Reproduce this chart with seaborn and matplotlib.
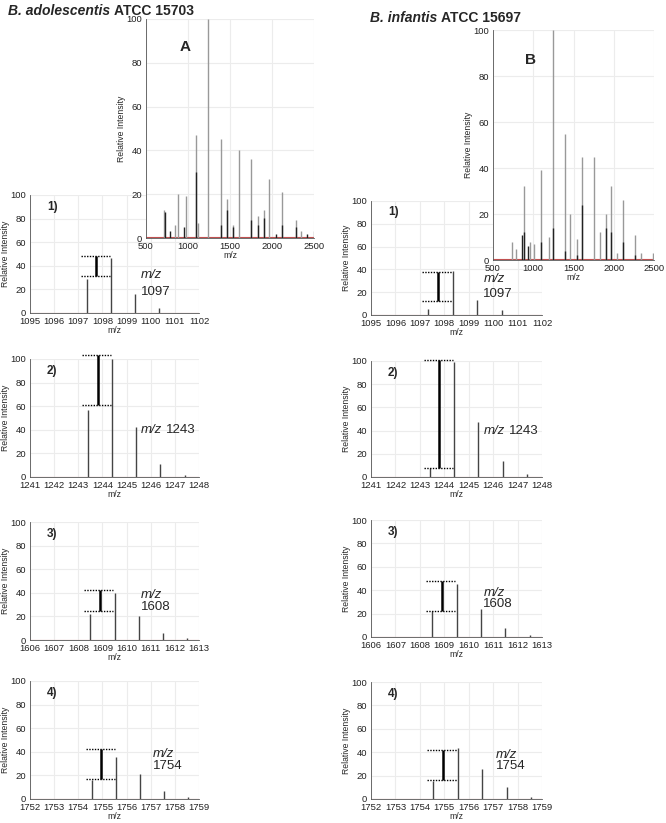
import numpy as np
import matplotlib
matplotlib.use("Agg")
import matplotlib.pyplot as plt
import seaborn as sns

sns.set_style("whitegrid", {"grid.color": "#ececec", "axes.edgecolor": "#555555"})
plt.rcParams["font.family"] = "Liberation Sans"

W, H = 666, 823

# ---- overview spectra (m/z, intensity) ----
a_gray_mz = [720, 880, 980, 1100, 1243, 1390, 1460, 1540, 1608, 1754, 1830, 1900, 1970, 2120, 2280, 2350, 2500, 1120, 850]
a_gray_int = [13, 20, 19, 47, 100, 45, 18, 6, 40, 36, 10, 13, 27, 21, 8, 3, 3, 7, 6]
a_dark_mz = [730, 780, 950, 1097, 1390, 1460, 1540, 1754, 1830, 1900, 2050, 2120, 2280, 2420]
a_dark_int = [12, 3, 5, 30, 6, 13, 5, 8, 6, 9, 2, 6, 5, 2]

b_gray_mz = [730, 790, 880, 960, 1010, 1097, 1200, 1243, 1390, 1460, 1540, 1608, 1754, 1830, 1900, 1970, 2040, 2120, 2270, 2340, 2490]
b_gray_int = [8, 5, 32, 8, 7, 39, 10, 100, 55, 20, 9, 45, 45, 12, 20, 32, 3, 26, 11, 3, 3]
b_dark_mz = [860, 890, 930, 1100, 1250, 1400, 1545, 1608, 1900, 1970, 2120, 2270]
b_dark_int = [11, 12, 6, 8, 14, 4, 2, 24, 14, 12, 8, 2]

# ---- zoomed isotope clusters ----
zoom_start = [1095, 1241, 1606, 1752]
zoom_labels = ["1097", "1243", "1608", "1754"]
left_peaks = [[1097.35, 1098.35, 1099.35, 1100.35],
              [1243.4, 1244.4, 1245.4, 1246.4, 1247.4],
              [1608.5, 1609.5, 1610.5, 1611.5, 1612.5],
              [1754.55, 1755.55, 1756.55, 1757.55, 1758.55]]
left_int = [[29, 47, 16, 4], [57, 100, 42, 11, 2], [22, 40, 20, 6, 2], [16, 36, 21, 7, 2]]
left_bracket = [(48, 31), (103, 61), (42, 25), (42, 17)]
right_peaks = left_peaks
right_int = [[5, 39, 13, 4], [8, 99, 47, 14, 3], [22, 45, 24, 8, 2], [15, 44, 26, 10, 2]]
right_bracket = [(38, 12), (101, 8), (48, 22), (42, 16)]


def px_axes(fig, x0, x1, ytop, ybot):
    return fig.add_axes([x0 / W, 1 - ybot / H, (x1 - x0) / W, (ybot - ytop) / H])


def style(ax, xlim, xticks, ylim=(0, 100)):
    ax.set_xlim(*xlim)
    ax.set_ylim(*ylim)
    ax.set_xticks(xticks)
    ax.set_yticks([0, 20, 40, 60, 80, 100])
    ax.tick_params(labelsize=6.8, length=2, pad=1, colors="#222222")
    for s in ["top", "right"]:
        ax.spines[s].set_visible(False)
    for s in ["left", "bottom"]:
        ax.spines[s].set_linewidth(0.6)
    ax.set_ylabel("Relative Intensity", fontsize=6.2, labelpad=0)
    ax.set_xlabel("m/z", fontsize=6.2, labelpad=0)
    ax.axhline(0.4, color="#c05050", lw=0.8)


def title(fig, x, y, italic, rest):
    t = fig.text(x / W, 1 - y / H, italic, fontsize=10, fontweight="bold", fontstyle="italic", va="center")
    plt.annotate(rest, xy=(1, 0.5), xycoords=t, xytext=(3, 0), textcoords="offset points",
                 fontsize=10, fontweight="bold", va="center", annotation_clip=False)


fig = plt.figure(figsize=(W / 100, H / 100), dpi=100)

cols = [
    dict(x0=30, x1=199, rows=[(195, 313), (359, 477), (522, 640), (681, 799)],
         peaks=left_peaks, ints=left_int, br=left_bracket),
    dict(x0=371, x1=542, rows=[(201, 315), (361, 477), (520, 637), (682, 799)],
         peaks=right_peaks, ints=right_int, br=right_bracket),
]

for ci, col in enumerate(cols):
    for ri, (yt, yb) in enumerate(col["rows"]):
        ax = px_axes(fig, col["x0"], col["x1"], yt, yb)
        start = zoom_start[ri]
        style(ax, (start, start + 7), range(start, start + 8))
        ax.vlines(col["peaks"][ri], 0, col["ints"][ri], color="#444444", lw=1.0)
        hi, lo = col["br"][ri]
        p0 = col["peaks"][ri][0]
        ax.hlines([hi, lo], p0 - 0.25, p0 + 0.95, color="black", lw=1.0, linestyles=(0, (1, 1)), clip_on=False)
        ax.vlines(p0 + 0.4, lo, hi, color="black", lw=1.8, clip_on=False)
        ax.text(0.1, 0.9, f"{ri + 1})", transform=ax.transAxes, fontsize=8.5, fontweight="bold", va="center")
        if ri == 1:
            ax.text(start + 4.6, 40, "m/z", fontsize=9.5, fontstyle="italic", va="center")
            ax.text(start + 5.65, 40, zoom_labels[ri], fontsize=9.5, va="center")
        else:
            tx = start + (4.6 if ri < 3 else 5.1)
            ax.text(tx, 38 if ri != 0 else 32, "m/z", fontsize=9.5, fontstyle="italic", va="center")
            ax.text(tx, 28 if ri != 0 else 18, zoom_labels[ri], fontsize=9.5, va="center")

# overview insets
for (x0, x1, yt, yb, gm, gi, dm, di, lab) in [
        (146, 314, 19, 238, a_gray_mz, a_gray_int, a_dark_mz, a_dark_int, "A"),
        (493, 654, 30, 260, b_gray_mz, b_gray_int, b_dark_mz, b_dark_int, "B")]:
    ax = px_axes(fig, x0, x1, yt, yb)
    ax.set_facecolor("white")
    style(ax, (500, 2500), [500, 1000, 1500, 2000, 2500])
    ax.vlines(gm, 0, gi, color="#999999", lw=1.0)
    ax.vlines(dm, 0, di, color="#222222", lw=1.0)
    ax.text(0.2, 0.87, lab, transform=ax.transAxes, fontsize=11, fontweight="bold", va="center")

title(fig, 8, 11, "B. adolescentis", "ATCC 15703")
title(fig, 370, 18, "B. infantis", "ATCC 15697")

fig.savefig("out.png", dpi=100)
